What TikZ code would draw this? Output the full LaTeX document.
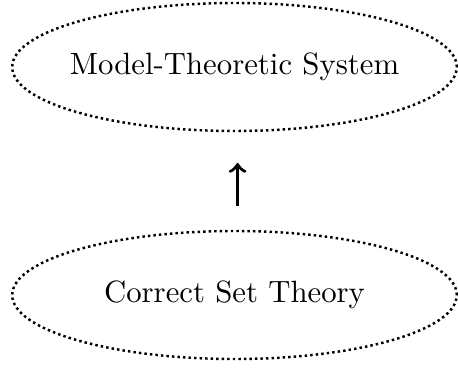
\documentclass[tikz,border=0pt]{standalone}
\usepackage{tikz}
\usetikzlibrary{arrows.meta,positioning,shapes.geometric}

\begin{document}
\begin{tikzpicture}[x=0.325pt, y=-0.325pt]
\tikzstyle{theory}=[draw, ellipse, densely dotted, line width=0.8pt, minimum width=144.5pt, minimum height=41.6pt, inner xsep=-5pt, inner ysep=0pt]
\useasboundingbox (0,0) rectangle (458,368);
\node[theory] (model) at (234.5,67) {Model-Theoretic System};
\node[theory] (sets) at (234.5,295) {Correct Set Theory};
\draw[-to, line width=1.1pt, solid, shorten <=7.8pt, shorten >=10pt] ([xshift=1pt]sets.north) -- ([xshift=1pt]model.south);
\end{tikzpicture}
\end{document}
